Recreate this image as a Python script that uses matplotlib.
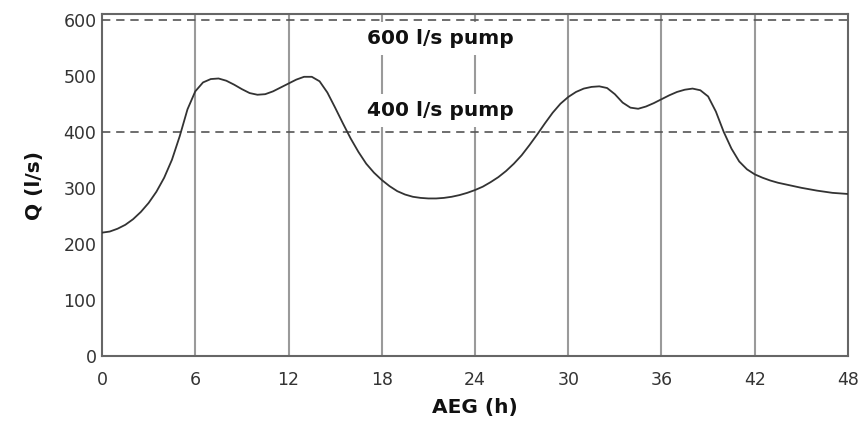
import matplotlib
matplotlib.use("Agg")
import matplotlib.pyplot as plt

# Flow over the 48-hour period (hours, l/s)
hours = [0, 0.5, 1, 1.5, 2, 2.5, 3, 3.5, 4, 4.5, 5, 5.5, 6, 6.5, 7, 7.5, 8, 8.5, 9, 9.5,
         10, 10.5, 11, 11.5, 12, 12.5, 13, 13.5, 14, 14.5, 15, 15.5, 16, 16.5, 17, 17.5,
         18, 18.5, 19, 19.5, 20, 20.5, 21, 21.5, 22, 22.5, 23, 23.5, 24, 24.5, 25, 25.5,
         26, 26.5, 27, 27.5, 28, 28.5, 29, 29.5, 30, 30.5, 31, 31.5, 32, 32.5, 33, 33.5,
         34, 34.5, 35, 35.5, 36, 36.5, 37, 37.5, 38, 38.5, 39, 39.5, 40, 40.5, 41, 41.5,
         42, 42.5, 43, 43.5, 44, 45, 46, 47, 48]
flow = [220, 222, 227, 234, 244, 257, 273, 293, 318, 350, 392, 440, 472, 488, 494, 495, 491, 484, 476, 469,
        466, 467, 472, 479, 486, 493, 498, 498, 490, 470, 443, 415, 388, 364, 343, 327,
        314, 303, 294, 288, 284, 282, 281, 281, 282, 284, 287, 291, 296, 302, 310, 319,
        330, 343, 358, 376, 395, 415, 434, 450, 462, 471, 477, 480, 481, 478, 467, 452,
        443, 441, 445, 451, 458, 465, 471, 475, 477, 474, 463, 436, 400, 370, 347, 333,
        324, 318, 313, 309, 306, 300, 295, 291, 289]

pump_levels = [400, 600]
pump_labels = ["400 l/s pump", "600 l/s pump"]
label_pos = [(21.8, 438), (21.8, 566)]
xticks = list(range(0, 49, 6))
yticks = list(range(0, 601, 100))

fig = plt.figure(figsize=(8.63, 4.25), dpi=100)
ax = fig.add_axes([0.1182, 0.1624, 0.8644, 0.8046])

ax.set_xlim(0, 48)
ax.set_ylim(0, 610)

for xv in xticks[1:-1]:
    ax.axvline(xv, color="#9a9a9a", lw=1.5, zorder=1)

for yv in pump_levels:
    ax.axhline(yv, color="#555555", lw=1.2, ls=(0, (5, 3.5)), zorder=4)

for (tx, ty), txt in zip(label_pos, pump_labels):
    ax.text(tx, ty, txt, ha="center", va="center", fontsize=14.5, fontweight="bold",
            color="#111111", zorder=3,
            bbox=dict(facecolor="white", edgecolor="none", pad=5))

ax.plot(hours, flow, color="#333333", lw=1.3, zorder=5)

for s in ax.spines.values():
    s.set_color("#666666")
    s.set_linewidth(1.5)

ax.set_xticks(xticks)
ax.set_yticks(yticks)
ax.tick_params(axis="both", length=0, labelsize=12.5, colors="#333333")
ax.tick_params(axis="x", pad=11)
ax.tick_params(axis="y", pad=4)

ax.set_xlabel("AEG (h)", fontsize=14.5, fontweight="bold", color="#111111", labelpad=6)
ax.set_ylabel("Q (l/s)", fontsize=14.5, fontweight="bold", color="#111111", labelpad=14)

fig.savefig("out.png", dpi=100)
